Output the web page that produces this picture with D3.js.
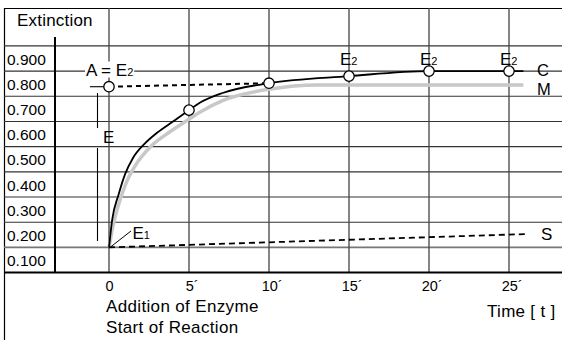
<!DOCTYPE html>
<html>
<head>
<meta charset="utf-8">
<script src="https://cdn.jsdelivr.net/npm/d3@7"></script>
<style>
  body { margin: 0; background: #fff; }
  svg { display: block; font-family: "Liberation Sans", Arial, sans-serif; }
</style>
</head>
<body>
<svg id="chart" width="562" height="340"></svg>
<script>
// tick labels
const timeTicks = [0, 5, 10, 15, 20, 25];
const extTicks = [0.9, 0.8, 0.7, 0.6, 0.5, 0.4, 0.3, 0.2, 0.1];
const gridExt = [0.95, 0.85, 0.75, 0.65, 0.55, 0.45, 0.35, 0.25, 0.15];

// C - measured curve (black)
const cTime = [0, 0.2, 0.6, 1.0, 1.5, 2.2, 3.0, 4.0, 5.0, 5.7, 7.1, 10, 15, 20, 25, 25.9];
const cExt = [0.15, 0.26, 0.36, 0.44, 0.505, 0.56, 0.605, 0.65, 0.695, 0.725, 0.763, 0.802, 0.83, 0.85, 0.85, 0.85];

// M - grey curve
const mTime = [0, 0.3, 0.7, 1.1, 1.8, 2.6, 3.6, 4.9, 5.7, 7.1, 10, 13, 25.9];
const mExt = [0.15, 0.25, 0.34, 0.41, 0.49, 0.55, 0.6, 0.655, 0.688, 0.733, 0.778, 0.795, 0.795];

// S - slow line (dashed)
const sTime = [0, 26.1];
const sExt = [0.15, 0.203];

// A = E2 dashed line
const aTime = [0, 10];
const aExt = [0.788, 0.802];

// circles
const markTime = [0, 5, 10, 15, 20, 25];
const markExt = [0.788, 0.695, 0.802, 0.83, 0.85, 0.85];
const e2Time = [15, 20, 25];

const svg = d3.select("#chart");
const W = 562, H = 340;

const x = d3.scaleLinear().domain([0, 25]).range([109, 509]);
const y = d3.scaleLinear().domain([0.1, 0.9]).range([260, 58.5]);
const y0 = y(0.05);

// frame
svg.append("line").attr("x1", 4).attr("x2", W).attr("y1", 8.5).attr("y2", 8.5)
  .attr("stroke", "#000").attr("stroke-width", 1.2);
svg.append("line").attr("x1", 4.5).attr("x2", 4.5).attr("y1", 8).attr("y2", H)
  .attr("stroke", "#000").attr("stroke-width", 1.2);

// horizontal grid
svg.append("g").selectAll("line").data(gridExt).join("line")
  .attr("x1", 4).attr("x2", W)
  .attr("y1", d => y(d)).attr("y2", d => y(d))
  .attr("stroke", d => d === 0.15 ? "#777" : "#333")
  .attr("stroke-width", d => d === 0.15 ? 1.8 : 1.1);

// vertical grid
svg.append("g").selectAll("line").data(timeTicks).join("line")
  .attr("x1", d => x(d)).attr("x2", d => x(d))
  .attr("y1", 8).attr("y2", y0)
  .attr("stroke", "#444").attr("stroke-width", 1.3);

// axes lines
svg.append("line").attr("x1", 4).attr("x2", W).attr("y1", y0).attr("y2", y0)
  .attr("stroke", "#000").attr("stroke-width", 2);
svg.append("line").attr("x1", 55).attr("x2", 55).attr("y1", 37).attr("y2", y0)
  .attr("stroke", "#000").attr("stroke-width", 2);

// y tick labels
svg.append("g")
  .attr("transform", "translate(7,0)")
  .call(d3.axisLeft(y).tickValues(extTicks).tickSize(0).tickPadding(0).tickFormat(d3.format(".3f")))
  .call(g => g.select(".domain").remove())
  .attr("font-size", 15.5).attr("font-family", null)
  .selectAll("text").attr("text-anchor", "start").attr("x", 0).attr("dy", "0.36em").attr("fill", "#000");

// x tick labels
svg.append("g")
  .attr("transform", `translate(0,${y0})`)
  .call(d3.axisBottom(x).tickValues(timeTicks).tickSize(0).tickPadding(8)
    .tickFormat(d => d ? d + "\u00B4" : "0"))
  .call(g => g.select(".domain").remove())
  .attr("font-size", 14.5).attr("font-family", null)
  .selectAll("text").attr("dx", d => d ? 2.6 : 0).attr("fill", "#000");

const line = d3.line().x((d, i) => x(d[0])).y(d => y(d[1]));

// M grey
svg.append("path")
  .datum(d3.zip(mTime, mExt))
  .attr("d", line.curve(d3.curveMonotoneX))
  .attr("fill", "none").attr("stroke", "#c8c8c8").attr("stroke-width", 3.5);

// C black
svg.append("path")
  .datum(d3.zip(cTime, cExt))
  .attr("d", line.curve(d3.curveMonotoneX))
  .attr("fill", "none").attr("stroke", "#000").attr("stroke-width", 1.8);

// S dashed
svg.append("path")
  .datum(d3.zip(sTime, sExt))
  .attr("d", line.curve(d3.curveLinear))
  .attr("fill", "none").attr("stroke", "#000").attr("stroke-width", 1.8)
  .attr("stroke-dasharray", "6,4");

// A dashed
svg.append("path")
  .datum(d3.zip(aTime, aExt))
  .attr("d", line.curve(d3.curveLinear))
  .attr("fill", "none").attr("stroke", "#000").attr("stroke-width", 2)
  .attr("stroke-dasharray", "5,4");

// E bracket
svg.append("line").attr("x1", 90).attr("x2", x(0)).attr("y1", y(aExt[0])).attr("y2", y(aExt[0]))
  .attr("stroke", "#000").attr("stroke-width", 1.1);
svg.append("line").attr("x1", 97.5).attr("x2", 97.5).attr("y1", 93).attr("y2", 128)
  .attr("stroke", "#000").attr("stroke-width", 1.1);
svg.append("line").attr("x1", 97.5).attr("x2", 97.5).attr("y1", 148).attr("y2", 241)
  .attr("stroke", "#000").attr("stroke-width", 1.1);

// E1 leader
svg.append("line").attr("x1", x(0) + 1).attr("y1", y(0.15)).attr("x2", 131).attr("y2", 231)
  .attr("stroke", "#000").attr("stroke-width", 1);

// circles
svg.append("g").selectAll("circle").data(d3.zip(markTime, markExt)).join("circle")
  .attr("cx", d => x(d[0])).attr("cy", d => y(d[1])).attr("r", 5.2)
  .attr("fill", "#fff").attr("stroke", "#000").attr("stroke-width", 1.3);

// labels
const label = (tx, ty, main, sub, size, ls) => {
  const t = svg.append("text").attr("x", tx).attr("y", ty)
    .attr("font-size", size || 17).attr("letter-spacing", ls || 0)
    .attr("fill", "#000").text(main);
  if (sub) t.append("tspan").attr("font-size", 11).text(sub);
  return t;
};

label(17, 26, "Extinction", null, 17, 0.2);

const aLab = label(86, 75.5, "A = E", "2");
const bb = aLab.node().getBBox();
svg.insert("rect", () => aLab.node())
  .attr("x", bb.x - 1).attr("y", bb.y + 1).attr("width", bb.width + 2).attr("height", bb.height - 3)
  .attr("fill", "#fff");

e2Time.forEach(t => label(x(t) - 9, y(0.85) - 6, "E", "2"));

label(103, 143, "E");
label(132.5, 239, "E", "1");
label(537, 76, "C", null, 16.5);
label(537, 95, "M", null, 16.5);
label(541, 240, "S");

label(106, 311.5, "Addition of Enzyme", null, 17, 0.35);
label(106, 333, "Start of Reaction", null, 17, 0.35);
label(487, 316.5, "Time [ t ]", null, 17, 0.3);
</script>
</body>
</html>
